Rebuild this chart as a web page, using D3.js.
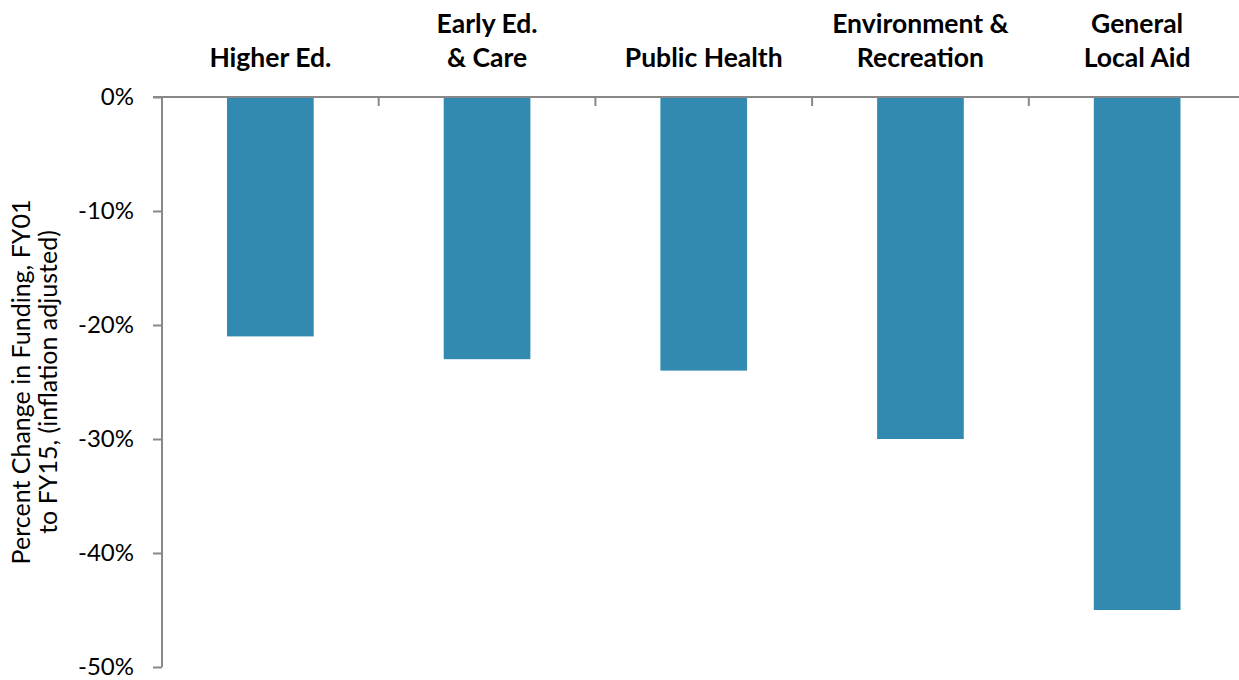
<!DOCTYPE html>
<html>
<head>
<meta charset="utf-8">
<script src="https://cdn.jsdelivr.net/npm/d3@7"></script>
<style>
  body { margin: 0; background: #fff; }
  svg { display: block; font-family: Lato, "Open Sans", sans-serif; }
</style>
</head>
<body>
<svg id="chart" width="1239" height="680"></svg>
<script>
// categories (label lines) and values
var categories = ["Higher Ed.", "Early Ed. & Care", "Public Health", "Environment & Recreation", "General Local Aid"];
var labelLines = [["Higher Ed."], ["Early Ed.", "& Care"], ["Public Health"], ["Environment &", "Recreation"], ["General", "Local Aid"]];
var values = [-21, -23, -24, -30, -45];
var yTicks = [0, -10, -20, -30, -40, -50];

var svg = d3.select("#chart");
var plotLeft = 162, plotTop = 97, plotBottom = 667;
var bandW = 216.7;
var plotRight = plotLeft + bandW * categories.length;

var x = d3.scaleBand().domain(categories).range([plotLeft, plotRight]).paddingInner(0.6).paddingOuter(0.3);
var y = d3.scaleLinear().domain([-50, 0]).range([plotBottom, plotTop]);

// bars
svg.selectAll("rect.bar").data(values).enter().append("rect")
  .attr("class", "bar")
  .attr("x", function(d, i) { return x(categories[i]); })
  .attr("y", y(0))
  .attr("width", x.bandwidth())
  .attr("height", function(d) { return y(d) - y(0); })
  .attr("fill", "#338ab0");

// y axis
var yAxis = svg.append("g").attr("transform", "translate(" + plotLeft + ",0)")
  .call(d3.axisLeft(y).tickValues(yTicks).tickSize(9).tickPadding(19)
    .tickFormat(function(d) { return d + "%"; }));
yAxis.select(".domain").attr("stroke", "#888").attr("stroke-width", 2).attr("d", "M0," + plotTop + "V" + plotBottom);
yAxis.selectAll(".tick line").attr("stroke", "#888").attr("stroke-width", 2);
yAxis.selectAll(".tick text").attr("font-size", "24px").attr("fill", "#000").attr("font-family", "Lato, sans-serif");

// zero line with category ticks
var edges = d3.range(categories.length + 1).map(function(i) { return plotLeft + i * bandW; });
svg.append("line").attr("x1", plotLeft - 9).attr("x2", 1239).attr("y1", y(0)).attr("y2", y(0))
  .attr("stroke", "#888").attr("stroke-width", 2);
svg.selectAll("line.ctick").data(edges.slice(1, -1)).enter().append("line")
  .attr("class", "ctick")
  .attr("x1", function(d) { return d; }).attr("x2", function(d) { return d; })
  .attr("y1", y(0)).attr("y2", y(0) + 9)
  .attr("stroke", "#888").attr("stroke-width", 2);

// category labels on top
var lbl = svg.selectAll("text.cat").data(labelLines).enter().append("text")
  .attr("class", "cat")
  .attr("text-anchor", "middle")
  .attr("font-size", "26.5px")
  .attr("font-weight", "bold")
  .attr("fill", "#000");
lbl.each(function(lines, i) {
  var cx = x(categories[i]) + x.bandwidth() / 2;
  var t = d3.select(this);
  var y0 = 67 - (lines.length - 1) * 34;
  lines.forEach(function(s, j) {
    t.append("tspan").attr("x", cx).attr("y", y0 + j * 34).text(s);
  });
});

// y axis title
var yt = svg.append("text")
  .attr("transform", "translate(30," + ((plotTop + plotBottom) / 2) + ") rotate(-90)")
  .attr("text-anchor", "middle")
  .attr("font-size", "25px")
  .attr("fill", "#000");
yt.append("tspan").attr("x", 0).attr("y", 0).text("Percent Change in Funding, FY01");
yt.append("tspan").attr("x", 0).attr("y", 27).text("to FY15, (inflation adjusted)");
</script>
</body>
</html>
